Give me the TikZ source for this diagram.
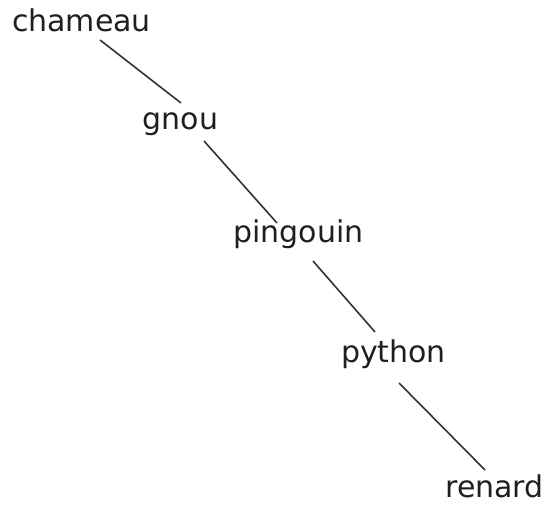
\documentclass[tikz,border=0pt]{standalone}
\usepackage{fontspec}
\setmainfont{DejaVu Sans}
\begin{document}
\begin{tikzpicture}[x=1pt,y=1pt,
  word/.style={anchor=base,inner sep=0pt,text=black!88,font=\fontsize{30}{36}\selectfont},
  link/.style={draw=black!80,line width=1.6pt}]
\useasboundingbox (0,0) rectangle (548,506);
\node[word] (chameau) at (81.5,474) {chameau};
\node[word] (gnou) at (180.5,376) {gnou};
\node[word] (pingouin) at (298.5,263) {pingouin};
\node[word] (python) at (393.5,143) {python};
\node[word] (renard) at (494.5,9) {renard};
\draw[link] ([shift={(18.5,-8)}]chameau.base) -- ([shift={(0.5,27)}]gnou.base);
\draw[link] ([shift={(23.5,-11)}]gnou.base) -- ([shift={(-21.5,20)}]pingouin.base);
\draw[link] ([shift={(14.5,-18)}]pingouin.base) -- ([shift={(-18.5,31)}]python.base);
\draw[link] ([shift={(5.5,-20)}]python.base) -- ([shift={(-9.5,27)}]renard.base);
\end{tikzpicture}
\end{document}
